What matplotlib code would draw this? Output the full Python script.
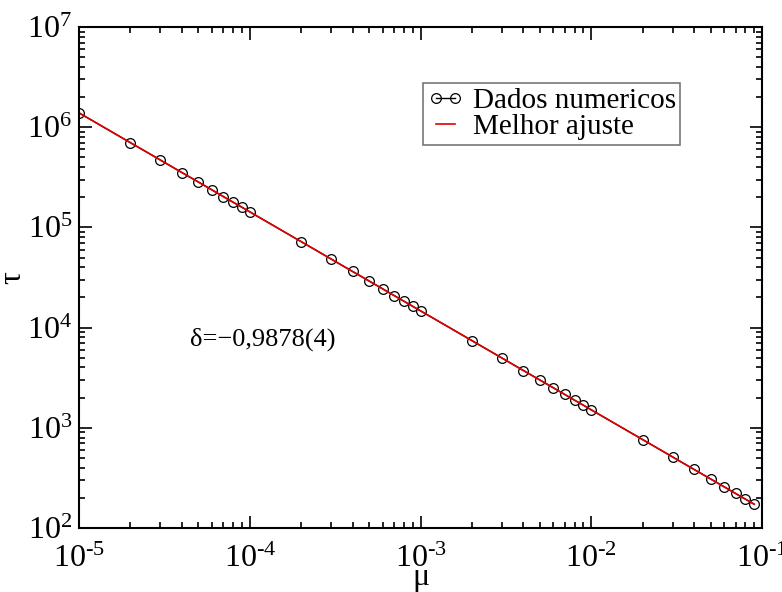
import numpy as np
import matplotlib
matplotlib.use("Agg")
import matplotlib.pyplot as plt
from matplotlib.ticker import LogLocator, NullFormatter

plt.rcParams['font.family'] = ['Liberation Serif', 'DejaVu Serif']
plt.rcParams['mathtext.fontset'] = 'custom'
plt.rcParams['mathtext.rm'] = 'Liberation Serif'
plt.rcParams['mathtext.it'] = 'Liberation Serif'

# valores
mu = [1e-5, 2e-5, 3e-5, 4e-5, 5e-5, 6e-5, 7e-5, 8e-5, 9e-5,
      1e-4, 2e-4, 3e-4, 4e-4, 5e-4, 6e-4, 7e-4, 8e-4, 9e-4,
      1e-3, 2e-3, 3e-3, 4e-3, 5e-3, 6e-3, 7e-3, 8e-3, 9e-3,
      1e-2, 2e-2, 3e-2, 4e-2, 5e-2, 6e-2, 7e-2, 8e-2, 9e-2]
tau = [1.39e6, 7.01e5, 4.70e5, 3.53e5, 2.84e5, 2.37e5, 2.03e5, 1.78e5, 1.59e5,
       1.43e5, 7.21e4, 4.83e4, 3.63e4, 2.92e4, 2.44e4, 2.09e4, 1.83e4, 1.63e4,
       1.47e4, 7.42e3, 4.97e3, 3.73e3, 3.00e3, 2.51e3, 2.15e3, 1.88e3, 1.68e3,
       1.51e3, 763, 511, 384, 309, 258, 221, 194, 173]

# melhor ajuste: tau = A * mu^delta
delta = -0.9878
A = 1.39e6 / (1e-5) ** delta
mu_fit = np.array([1e-5, 9e-2])
tau_fit = A * mu_fit ** delta

fig = plt.figure(figsize=(7.82, 5.92), dpi=100)
ax = fig.add_axes([79/782, 1 - 528/592, 683/782, 501/592])

ax.plot(mu, tau, color='black', lw=1, marker='o', ms=7, mfc='none',
        mec='black', mew=0.9, label='Dados numericos')
ax.plot(mu_fit, tau_fit, color='#e00000', lw=1.2, label='Melhor ajuste')

ax.set_xscale('log')
ax.set_yscale('log')
ax.set_xlim(1e-5, 1e-1)
ax.set_ylim(1e2, 1e7)

xt = [1e-5, 1e-4, 1e-3, 1e-2, 1e-1]
yt = [1e2, 1e3, 1e4, 1e5, 1e6, 1e7]
ax.set_xticks(xt)
ax.set_xticklabels([r'$10^{\text{-}%d}$' % -np.log10(v) for v in xt])
ax.set_yticks(yt)
ax.set_yticklabels([r'$10^{%d}$' % np.log10(v) for v in yt])
ax.xaxis.set_minor_locator(LogLocator(base=10, subs=np.arange(2, 10)))
ax.yaxis.set_minor_locator(LogLocator(base=10, subs=np.arange(2, 10)))
ax.xaxis.set_minor_formatter(NullFormatter())
ax.yaxis.set_minor_formatter(NullFormatter())

ax.tick_params(which='both', direction='in', top=True, right=True, width=1.2)
ax.tick_params(which='major', length=9, labelsize=23)
ax.tick_params(axis='x', which='major', pad=12)
ax.tick_params(axis='y', which='major', pad=5)
ax.tick_params(which='minor', length=4.5)
for s in ax.spines.values():
    s.set_linewidth(1.5)

ax.set_xlabel(r'$\mu$', fontsize=23)
ax.xaxis.set_label_coords(0.5, -0.074)
ax.set_ylabel(r'$\tau$', fontsize=23)
ax.yaxis.set_label_coords(-0.074, 0.5)

ax.text(0.163, 0.365, 'δ=−0,9878(4)', transform=ax.transAxes, fontsize=19)

leg = ax.legend(loc='upper left', bbox_to_anchor=(344/683, 445/501), fontsize=21,
                numpoints=2, frameon=True, fancybox=False, borderpad=0.15,
                handlelength=1.25, handletextpad=0.3, labelspacing=0.0,
                borderaxespad=0)
leg.get_frame().set_edgecolor('#555555')
leg.get_frame().set_linewidth(1.2)

fig.savefig('out.png', dpi=100)
